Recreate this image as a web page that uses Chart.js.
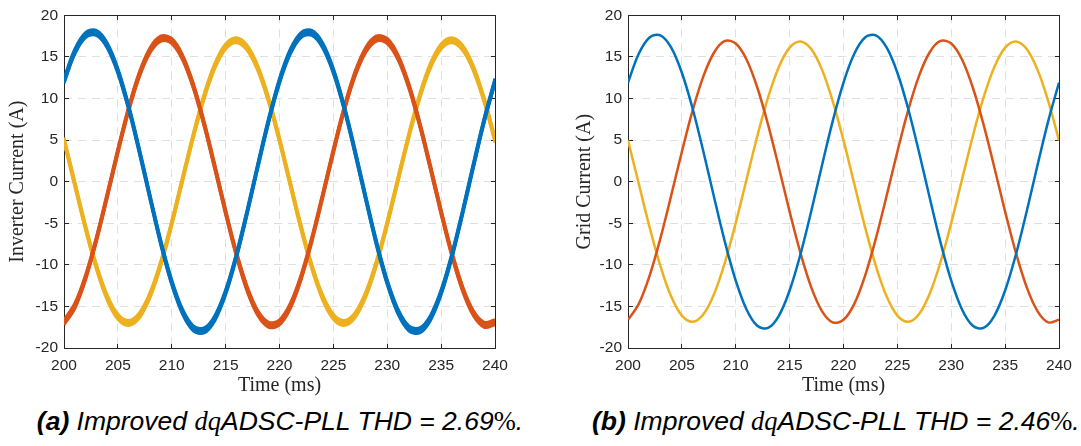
<!DOCTYPE html>
<html>
<head>
<meta charset="utf-8">
<script src="https://cdn.jsdelivr.net/npm/chart.js@4.4.1/dist/chart.umd.min.js"></script>
<style>
  html, body { margin: 0; padding: 0; background: #fff; }
  #wrap { position: relative; width: 1081px; height: 446px; overflow: hidden; }
  canvas { position: absolute; top: 0; }
  #cvA { left: 0; }
  #cvB { left: 564px; }
  .cap {
    position: absolute; top: 406px;
    font-family: 'Liberation Sans', Arial, sans-serif;
    font-style: italic; font-size: 26.5px; line-height: 30px;
    text-align: center; color: #000; white-space: nowrap;
  }
  .cap b { font-weight: bold; }
  .cap .mi { font-family: 'Liberation Serif', serif; font-style: italic; }
  .cap .pc { font-family: 'Liberation Serif', serif; font-style: normal; }
  #capA { left: 0; width: 560px; }
  #capB { left: 592px; width: 480px; }
</style>
</head>
<body>
<div id="wrap">
  <canvas id="cvA" width="540" height="400"></canvas>
  <canvas id="cvB" width="517" height="400"></canvas>
  <div class="cap" id="capA"><b>(a)</b> Improved <span class="mi">dq</span>ADSC-PLL THD = 2.69<span class="pc">%</span>.</div>
  <div class="cap" id="capB"><b>(b)</b> Improved <span class="mi">dq</span>ADSC-PLL THD = 2.46<span class="pc">%</span>.</div>
</div>
<script>
// Sample instants (ms)
const timeMs = [200, 201, 202, 203, 204, 205, 206, 207, 208, 209,
                210, 211, 212, 213, 214, 215, 216, 217, 218, 219,
                220, 221, 222, 223, 224, 225, 226, 227, 228, 229,
                230, 231, 232, 233, 234, 235, 236, 237, 238, 239, 240];

// Axis ticks
const xTicks = [200, 205, 210, 215, 220, 225, 230, 235, 240];
const yTicks = [-20, -15, -10, -5, 0, 5, 10, 15, 20];

// Inverter currents, phases a/b/c (A)
const invA = [12.11, 15.63, 17.63, 17.89, 16.41, 13.31, 8.92, 3.65, -1.97, -7.41,
              -12.11, -15.63, -17.63, -17.89, -16.41, -13.31, -8.92, -3.65, 1.97, 7.41,
              12.11, 15.63, 17.63, 17.89, 16.41, 13.31, 8.92, 3.65, -1.97, -7.41,
              -12.11, -15.63, -17.63, -17.89, -16.41, -13.31, -8.92, -3.65, 1.97, 7.41, 12.11];
const invB = [-16.91, -14.95, -11.52, -6.97, -1.74, 3.67, 8.71, 12.90, 15.83, 17.21,
              16.91, 14.95, 11.52, 6.97, 1.74, -3.67, -8.71, -12.90, -15.83, -17.21,
              -16.91, -14.95, -11.52, -6.97, -1.74, 3.67, 8.71, 12.90, 15.83, 17.21,
              16.91, 14.95, 11.52, 6.97, 1.74, -3.67, -8.71, -12.90, -15.83, -17.21, -16.91];
const invC = [5.00, -0.27, -5.51, -10.21, -13.91, -16.25, -17.00, -16.08, -13.59, -9.78,
              -5.00, 0.27, 5.51, 10.21, 13.91, 16.25, 17.00, 16.08, 13.59, 9.78,
              5.00, -0.27, -5.51, -10.21, -13.91, -16.25, -17.00, -16.08, -13.59, -9.78,
              -5.00, 0.27, 5.51, 10.21, 13.91, 16.25, 17.00, 16.08, 13.59, 9.78, 5.00];

// Grid currents, phases a/b/c (A)
const gridA = [11.91, 15.37, 17.33, 17.59, 16.13, 13.09, 8.77, 3.59, -1.94, -7.28,
               -11.91, -15.37, -17.33, -17.59, -16.13, -13.09, -8.77, -3.59, 1.94, 7.28,
               11.91, 15.37, 17.33, 17.59, 16.13, 13.09, 8.77, 3.59, -1.94, -7.28,
               -11.91, -15.37, -17.33, -17.59, -16.13, -13.09, -8.77, -3.59, 1.94, 7.28, 11.91];
const gridB = [-16.61, -14.69, -11.32, -6.85, -1.71, 3.60, 8.56, 12.68, 15.56, 16.92,
               16.61, 14.69, 11.32, 6.85, 1.71, -3.60, -8.56, -12.68, -15.56, -16.92,
               -16.61, -14.69, -11.32, -6.85, -1.71, 3.60, 8.56, 12.68, 15.56, 16.92,
               16.61, 14.69, 11.32, 6.85, 1.71, -3.60, -8.56, -12.68, -15.56, -16.92, -16.61];
const gridC = [4.96, -0.26, -5.46, -10.12, -13.79, -16.11, -16.85, -15.94, -13.47, -9.69,
               -4.96, 0.26, 5.46, 10.12, 13.79, 16.11, 16.85, 15.94, 13.47, 9.69,
               4.96, -0.26, -5.46, -10.12, -13.79, -16.11, -16.85, -15.94, -13.47, -9.69,
               -4.96, 0.26, 5.46, 10.12, 13.79, 16.11, 16.85, 15.94, 13.47, 9.69, 4.96];

const phaseColors = ['#0072BD', '#D95319', '#EDB120'];
const axisInk = '#262626';
const tickFont = { family: "'Liberation Sans', Arial, sans-serif", size: 15.5 };
const titleFont = { family: "'Liberation Serif', 'Times New Roman', serif", size: 20 };

// Redraws each trace shifted up/down a few pixels to show the switching ripple band
const rippleBand = {
  id: 'rippleBand',
  beforeDatasetDraw(chart, args, opts) {
    const offs = (opts && opts.offsets) || [];
    if (!offs.length) return;
    const { ctx, chartArea: a } = chart;
    ctx.save();
    ctx.beginPath();
    ctx.rect(a.left, a.top, a.right - a.left, a.bottom - a.top);
    ctx.clip();
    for (const dy of offs) {
      ctx.save();
      ctx.translate(0, dy);
      args.meta.controller.draw();
      ctx.restore();
    }
    ctx.restore();
  }
};

// Boxed axes with inward tick marks on all four sides
const boxAxes = {
  id: 'boxAxes',
  beforeDatasetsDraw(chart) {
    const { ctx, chartArea: a, scales } = chart;
    const al = p => Math.round(p - 0.5) + 0.5;
    const L = al(a.left), R = al(a.right), T = al(a.top), B = al(a.bottom);
    const len = 4.5;
    ctx.save();
    ctx.strokeStyle = axisInk;
    ctx.lineWidth = 1;
    ctx.beginPath();
    ctx.rect(L, T, R - L, B - T);
    for (const v of xTicks) {
      const px = al(scales.x.getPixelForValue(v));
      ctx.moveTo(px, B); ctx.lineTo(px, B - len);
      ctx.moveTo(px, T); ctx.lineTo(px, T + len);
    }
    for (const v of yTicks) {
      const py = al(scales.y.getPixelForValue(v));
      ctx.moveTo(L, py); ctx.lineTo(L + len, py);
      ctx.moveTo(R, py); ctx.lineTo(R - len, py);
    }
    ctx.stroke();
    ctx.restore();
  }
};

function makeChart(canvasId, series, yTitle, cfg) {
  const datasets = series.map((vals, i) => ({
    data: timeMs.map((t, k) => ({ x: t, y: vals[k] })),
    borderColor: phaseColors[i],
    borderWidth: cfg.lineWidth,
    pointRadius: 0,
    tension: 0.35,
    fill: false
  }));
  return new Chart(document.getElementById(canvasId), {
    type: 'line',
    data: { datasets },
    plugins: [rippleBand, boxAxes],
    options: {
      responsive: false,
      animation: false,
      devicePixelRatio: 1,
      layout: { padding: { left: 0, right: cfg.rightPad, top: 13, bottom: 0 } },
      plugins: {
        legend: { display: false },
        tooltip: { enabled: false },
        rippleBand: { offsets: cfg.ripple }
      },
      scales: {
        x: {
          type: 'linear', min: 200, max: 240,
          afterFit: s => { s.height = 52; },
          afterBuildTicks: s => { s.ticks = xTicks.map(v => ({ value: v })); },
          grid: { color: '#dfdfdf', lineWidth: 1, drawTicks: false },
          border: { display: false, dash: [8, 6] },
          ticks: { color: axisInk, font: tickFont, padding: 8, maxRotation: 0, callback: v => String(v) },
          title: { display: true, text: 'Time (ms)', color: axisInk, font: titleFont, padding: { top: 0, bottom: 2 } }
        },
        y: {
          type: 'linear', min: -20, max: 20,
          afterFit: s => { s.width = 64; },
          afterBuildTicks: s => { s.ticks = yTicks.map(v => ({ value: v })); },
          grid: { color: '#dfdfdf', lineWidth: 1, drawTicks: false },
          border: { display: false, dash: [8, 6] },
          ticks: { color: axisInk, font: tickFont, padding: 6, callback: v => String(v) },
          title: { display: true, text: yTitle, color: axisInk, font: titleFont, padding: { top: cfg.titlePad, bottom: 0 } }
        }
      }
    }
  });
}

makeChart('cvA', [invA, invB, invC], 'Inverter Current (A)',
  { lineWidth: 3, rightPad: 45, titlePad: 6, ripple: [-2.5, -1.25, 1.25, 2.5] });
makeChart('cvB', [gridA, gridB, gridC], 'Grid Current (A)',
  { lineWidth: 2.5, rightPad: 22, titlePad: 9, ripple: [] });
</script>
</body>
</html>
